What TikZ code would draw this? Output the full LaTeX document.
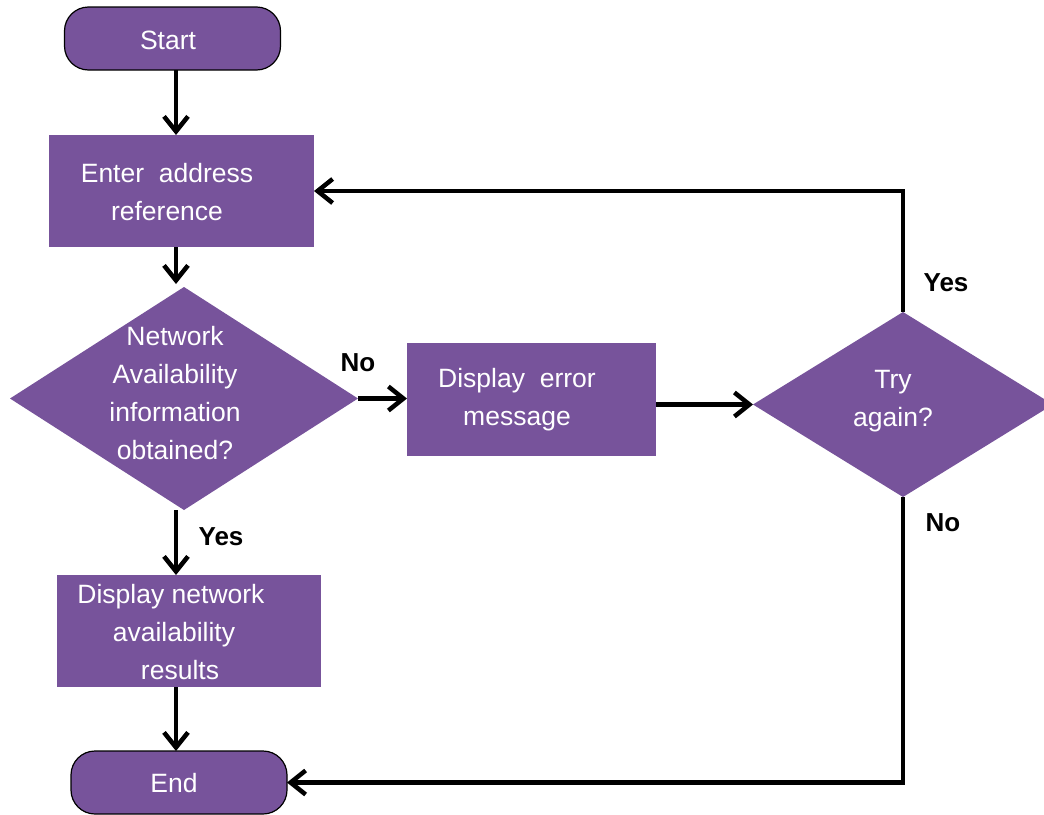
\documentclass[tikz,border=0pt]{standalone}
\usepackage{fontspec}
\setmainfont{Liberation Sans}
\usetikzlibrary{shapes.geometric,arrows.meta}
\definecolor{flowpurple}{RGB}{119,83,155}
\tikzset{
  shapefill/.style={fill=flowpurple, draw=none, inner sep=0pt, outer sep=0pt},
  terminal/.style={shapefill, draw=black, line width=1.2pt, rounded corners=24pt,
    minimum width=216pt, minimum height=63pt},
  procbox/.style={shapefill, rectangle},
  decision/.style={shapefill, diamond},
  boxtext/.style={text=white, align=center, inner sep=0pt,
    font=\fontsize{26.5}{38}\selectfont},
  edgelabel/.style={text=black, inner sep=0pt, font=\fontsize{26}{30}\selectfont\bfseries},
  flow/.style={line width=4.5pt, -{Straight Barb[length=15pt,width=24pt,line width=4.5pt]}}
}
\begin{document}
\begin{tikzpicture}[x=1pt,y=-1pt]
  \useasboundingbox (0,0) rectangle (1044,814);
  \clip (0,0) rectangle (1044,814);

  % shapes
  \node[terminal] (start) at (172.5,38.5) {};
  \node[procbox, minimum width=265pt, minimum height=112pt] (enter) at (181.5,191) {};
  \node[decision, minimum width=348pt, minimum height=223pt] (q1) at (184,398.5) {};
  \node[procbox, minimum width=249pt, minimum height=113pt] (err) at (531.5,399.5) {};
  \node[decision, minimum width=300pt, minimum height=185pt] (q2) at (903,404.5) {};
  \node[procbox, minimum width=264pt, minimum height=112pt] (res) at (189,631) {};
  \node[terminal] (end) at (179,782.5) {};

  % texts
  \node[boxtext] (start-t) at (168,40) {Start};
  \node[boxtext] (enter-t) at (167,192) {Enter\ \ address\\reference};
  \node[boxtext] (q1-t) at (175,393) {Network\\Availability\\information\\obtained?};
  \node[boxtext] (err-t) at (517,400) {Display\ \ error\\message};
  \node[boxtext] (q2-t) at (893,401) {Try\\again?};
  \node[boxtext] (res-t) at (174,632) {Display network\hspace*{6pt}\\availability\\\hspace*{12pt}results};
  \node[boxtext] (end-t) at (174,783) {End};

  % connectors
  \draw[flow] ([xshift=3.5pt]start.south) -- ([xshift=-5.5pt]enter.north);
  \draw[flow] ([xshift=-5.5pt]enter.south) -- ([xshift=-8pt,yshift=3pt]q1.north);
  \draw[flow] (q1.east) -- (q1.east -| err.west);
  \draw[flow] (err.east |- q2.west) -- (q2.west);
  \draw[flow] (q2.north) |- (enter.east);
  \draw[flow] (q2.south) |- (end.east);
  \draw[flow] ([xshift=-8pt]q1.south) -- ([xshift=-13pt]res.north);
  \draw[flow] ([xshift=-13pt]res.south) -- ([xshift=-3pt]end.north);

  % branch labels
  \node[edgelabel] (no1) at (358,363) {No};
  \node[edgelabel] (yes1) at (221,537) {Yes};
  \node[edgelabel] (yes2) at (946,283) {Yes};
  \node[edgelabel] (no2) at (943,523) {No};
\end{tikzpicture}
\end{document}
